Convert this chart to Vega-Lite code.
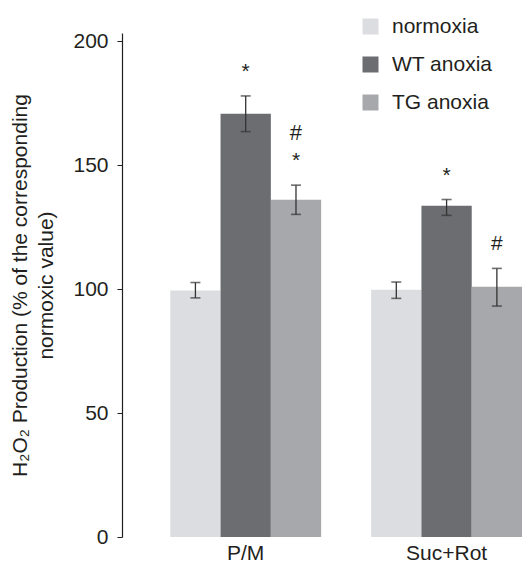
{
  "$schema": "https://vega.github.io/schema/vega-lite/v6.json",
  "width": 401,
  "height": 504,
  "autosize": "none",
  "padding": {"left": 122, "top": 33, "right": 0, "bottom": 28},
  "config": {
    "view": {"stroke": null},
    "font": "Liberation Sans",
    "axis": {"labelFont": "Liberation Sans", "titleFont": "Liberation Sans", "labelColor": "#231f20", "titleColor": "#231f20", "grid": false},
    "legend": {"labelFont": "Liberation Sans"}
  },
  "data": {
    "values": [
      {"substrate": "P/M", "condition": "normoxia", "value": 99.5, "lo": 96.5, "hi": 102.7, "sig1": null, "sig2": null},
      {"substrate": "P/M", "condition": "WT anoxia", "value": 170.8, "lo": 163.6, "hi": 178, "sig1": "*", "sig2": null},
      {"substrate": "P/M", "condition": "TG anoxia", "value": 136.1, "lo": 130.2, "hi": 142, "sig1": "*", "sig2": "#"},
      {"substrate": "Suc+Rot", "condition": "normoxia", "value": 99.8, "lo": 96.3, "hi": 102.9, "sig1": null, "sig2": null},
      {"substrate": "Suc+Rot", "condition": "WT anoxia", "value": 133.7, "lo": 129.8, "hi": 136.2, "sig1": "*", "sig2": null},
      {"substrate": "Suc+Rot", "condition": "TG anoxia", "value": 101, "lo": 93.2, "hi": 108.4, "sig1": "#", "sig2": null}
    ]
  },
  "encoding": {
    "x": {
      "field": "substrate",
      "type": "nominal",
      "sort": ["P/M", "Suc+Rot"],
      "scale": {"paddingInner": 0.249, "paddingOuter": 0.1226, "align": 0.98},
      "axis": {"title": null, "domain": false, "ticks": false, "labelAngle": 0, "labelFontSize": 21, "labelPadding": 5}
    },
    "xOffset": {
      "field": "condition",
      "type": "nominal",
      "sort": ["normoxia", "WT anoxia", "TG anoxia"],
      "scale": {"paddingInner": 0, "paddingOuter": 0}
    }
  },
  "layer": [
    {
      "mark": {"type": "bar"},
      "encoding": {
        "y": {
          "field": "value",
          "type": "quantitative",
          "scale": {"domain": [0, 203.4], "nice": false, "zero": true},
          "axis": {
            "values": [0, 50, 100, 150, 200],
            "title": ["H₂O₂ Production (% of the corresponding", "normoxic value)"],
            "titleFontSize": 21,
            "titleFontWeight": "normal",
            "titleLineHeight": 26,
            "titlePadding": 16,
            "labelFontSize": 21,
            "labelPadding": 9,
            "tickSize": 5,
            "tickColor": "#231f20",
            "domainColor": "#231f20",
            "domainWidth": 1.2
          }
        },
        "color": {
          "field": "condition",
          "type": "nominal",
          "sort": ["normoxia", "WT anoxia", "TG anoxia"],
          "scale": {"domain": ["normoxia", "WT anoxia", "TG anoxia"], "range": ["#dcdde0", "#6c6d71", "#a7a8ac"]},
          "legend": {
            "title": null,
            "orient": "none",
            "legendX": 238,
            "legendY": -17,
            "symbolType": "square",
            "symbolSize": 256,
            "symbolStrokeWidth": 0,
            "labelFontSize": 21,
            "labelColor": "#231f20",
            "labelOffset": 11,
            "rowPadding": 16
          }
        }
      }
    },
    {
      "mark": {"type": "rule", "color": "#333333", "strokeWidth": 1.3},
      "encoding": {
        "y": {"field": "lo", "type": "quantitative"},
        "y2": {"field": "hi"}
      }
    },
    {
      "mark": {"type": "tick", "color": "#333333", "thickness": 1.6, "size": 10, "orient": "horizontal"},
      "encoding": {"y": {"field": "lo", "type": "quantitative"}}
    },
    {
      "mark": {"type": "tick", "color": "#333333", "thickness": 1.6, "size": 10, "orient": "horizontal"},
      "encoding": {"y": {"field": "hi", "type": "quantitative"}}
    },
    {
      "transform": [{"filter": "datum.sig1 != null"}],
      "mark": {"type": "text", "fontSize": 21, "color": "#231f20", "baseline": "middle", "dy": -24},
      "encoding": {
        "y": {"field": "hi", "type": "quantitative"},
        "text": {"field": "sig1"}
      }
    },
    {
      "transform": [{"filter": "datum.sig2 != null"}],
      "mark": {"type": "text", "fontSize": 22, "color": "#231f20", "baseline": "middle", "dy": -52},
      "encoding": {
        "y": {"field": "hi", "type": "quantitative"},
        "text": {"field": "sig2"}
      }
    }
  ]
}
